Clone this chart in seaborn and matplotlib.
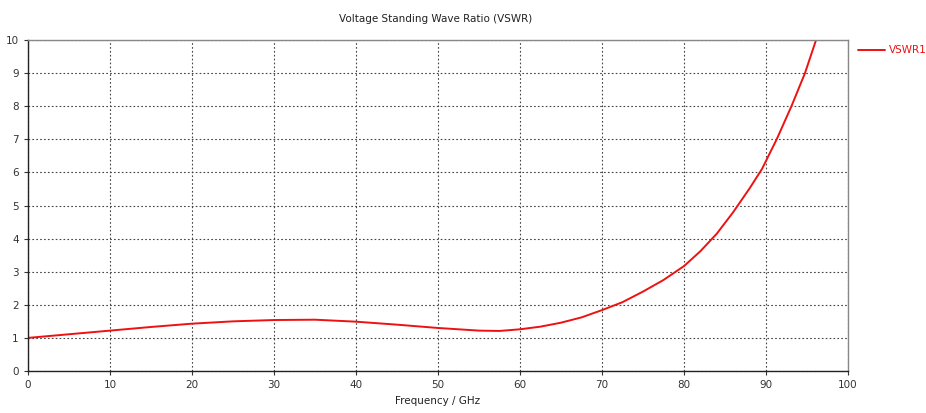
import numpy as np
import pandas as pd
import matplotlib
matplotlib.use('Agg')
import matplotlib.pyplot as plt
import seaborn as sns

# VSWR values
freq_ghz = [0, 5, 10, 15, 20, 25, 30, 35, 40, 45, 50, 55, 57.5, 60, 62.5, 65,
            67.5, 70, 72.5, 75, 77.5, 80, 82, 84, 86, 88, 89.5, 91.3,
            93.1, 94.75, 96.1, 97]
vswr1 = [1.00, 1.11, 1.22, 1.33, 1.43, 1.50, 1.54, 1.55, 1.49, 1.40, 1.30, 1.22, 1.21,
         1.26, 1.34, 1.46, 1.62, 1.84, 2.08, 2.40, 2.75, 3.17, 3.62, 4.15, 4.80,
         5.52, 6.10, 7.00, 8.00, 9.00, 10.00, 10.7]

x_ticks = list(range(0, 101, 10))
y_ticks = list(range(0, 11))

df = pd.DataFrame({'Frequency': freq_ghz, 'VSWR': vswr1, 'series': 'VSWR1'})

sns.set_style('white')
plt.rcParams['font.family'] = ['DejaVu Sans']

fig = plt.figure(figsize=(9.26, 4.13), dpi=100)
ax = fig.add_axes([0.0302, 0.1017, 0.8856, 0.8014])

sns.lineplot(data=df, x='Frequency', y='VSWR', hue='series', palette=['#ee1111'],
             linewidth=1.4, ax=ax, legend=True, sort=False)

ax.set_xlim(0, 100)
ax.set_ylim(0, 10)
ax.set_xticks(x_ticks)
ax.set_yticks(y_ticks)
ax.tick_params(axis='both', labelsize=7.5, colors='#333333', length=3, width=0.8,
               direction='out', bottom=True, left=True)
ax.grid(True, color='#444444', linestyle=(0, (1.5, 2)), linewidth=0.8)

for side in ['left', 'bottom']:
    ax.spines[side].set_color('#222222')
    ax.spines[side].set_linewidth(1.0)
for side in ['top', 'right']:
    ax.spines[side].set_color('#888888')
    ax.spines[side].set_linewidth(1.0)

ax.set_xlabel('Frequency / GHz', fontsize=7.5, color='#222222', labelpad=4)
ax.set_ylabel('')
fig.text(0.47, 0.955, 'Voltage Standing Wave Ratio (VSWR)', ha='center', va='center',
         fontsize=7.5, color='#222222')

handles, labels = ax.get_legend_handles_labels()
ax.legend(handles, labels, loc='upper left', bbox_to_anchor=(0.9265, 0.89),
          bbox_transform=fig.transFigure, frameon=False, fontsize=7.5,
          labelcolor='linecolor', handlelength=2.6, handletextpad=0.4,
          borderaxespad=0, borderpad=0)

plt.savefig('out.png', dpi=100)
